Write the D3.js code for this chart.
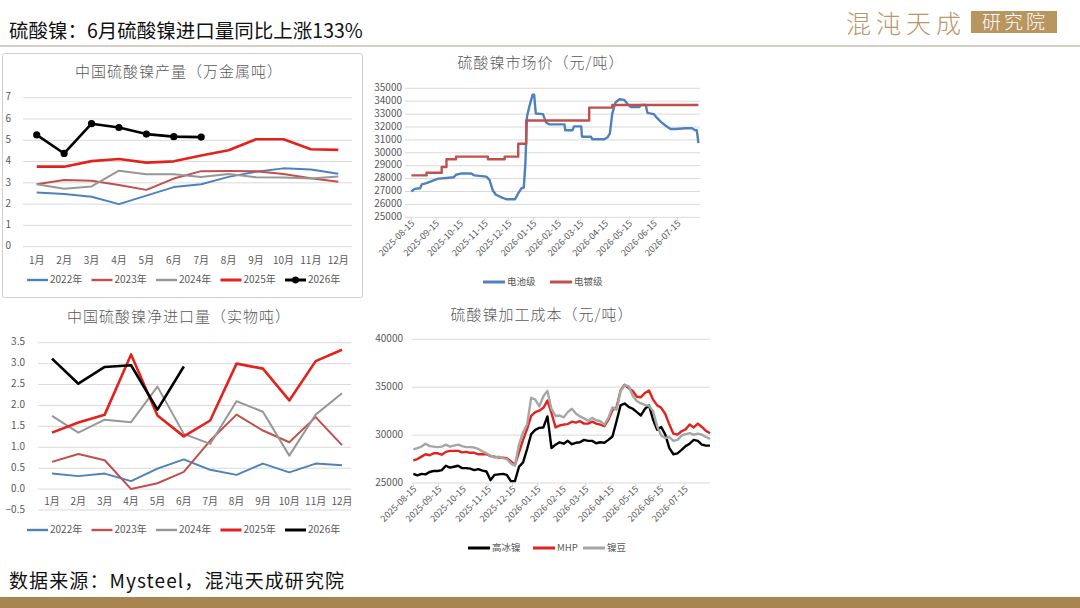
<!DOCTYPE html>
<html>
<head>
<meta charset="utf-8">
<script src="https://cdn.jsdelivr.net/npm/d3@7"></script>
<style>
  body { margin: 0; background: #fff; }
  svg { display: block; font-family: "Noto Sans CJK SC", "Noto Sans", sans-serif; }
</style>
</head>
<body>
<svg id="chart" width="1080" height="608"></svg>
<script>
// ---- data ----
const months = ["1月", "2月", "3月", "4月", "5月", "6月", "7月", "8月", "9月", "10月", "11月", "12月"];
const yearNames = ["2022年", "2023年", "2024年", "2025年", "2026年"];

// 中国硫酸镍产量（万金属吨）
const prod2022 = [2.55, 2.48, 2.35, 2.0, 2.4, 2.8, 2.93, 3.28, 3.52, 3.68, 3.63, 3.43];
const prod2023 = [2.93, 3.13, 3.1, 2.9, 2.67, 3.2, 3.55, 3.56, 3.55, 3.42, 3.22, 3.05];
const prod2024 = [2.93, 2.72, 2.83, 3.57, 3.4, 3.4, 3.28, 3.42, 3.26, 3.25, 3.2, 3.3];
const prod2025 = [3.76, 3.76, 4.02, 4.12, 3.95, 4.01, 4.28, 4.53, 5.05, 5.05, 4.58, 4.55];
const prod2026 = [5.25, 4.38, 5.78, 5.6, 5.29, 5.17, 5.15];

// 中国硫酸镍净进口量（实物吨）
const imp2022 = [0.37, 0.31, 0.37, 0.19, 0.49, 0.71, 0.46, 0.34, 0.61, 0.40, 0.61, 0.57];
const imp2023 = [0.65, 0.84, 0.69, 0.0, 0.14, 0.41, 1.16, 1.78, 1.40, 1.12, 1.72, 1.05];
const imp2024 = [1.75, 1.35, 1.66, 1.60, 2.45, 1.32, 1.08, 2.10, 1.85, 0.80, 1.78, 2.29];
const imp2025 = [1.35, 1.59, 1.78, 3.22, 1.76, 1.26, 1.64, 3.0, 2.88, 2.12, 3.06, 3.33];
const imp2026 = [3.12, 2.52, 2.92, 2.96, 1.90, 2.93];

// 硫酸镍市场价（元/吨）
const batteryPrice = [
  ["2025-08-15", 27000], ["2025-08-19", 27200], ["2025-08-26", 27250], ["2025-08-28", 27550],
  ["2025-09-03", 27650], ["2025-09-11", 27850], ["2025-09-18", 28000], ["2025-09-28", 28050],
  ["2025-10-07", 28100], ["2025-10-10", 28300], ["2025-10-17", 28400], ["2025-10-29", 28400],
  ["2025-11-02", 28250], ["2025-11-17", 28150], ["2025-11-21", 27900], ["2025-11-25", 27100],
  ["2025-11-29", 26750], ["2025-12-06", 26550], ["2025-12-12", 26400], ["2025-12-23", 26400],
  ["2025-12-27", 26850], ["2025-12-31", 27250], ["2026-01-03", 27300], ["2026-01-05", 29200],
  ["2026-01-07", 32800], ["2026-01-10", 33600], ["2026-01-12", 34050], ["2026-01-14", 34500],
  ["2026-01-16", 34500], ["2026-01-18", 33050], ["2026-01-27", 33000], ["2026-01-31", 32350],
  ["2026-02-04", 32200], ["2026-02-23", 32200], ["2026-02-24", 31750], ["2026-03-05", 31750],
  ["2026-03-07", 32050], ["2026-03-16", 32050], ["2026-03-17", 31250], ["2026-03-28", 31250],
  ["2026-03-30", 31050], ["2026-04-14", 31050], ["2026-04-18", 31200], ["2026-04-21", 31500],
  ["2026-04-24", 33050], ["2026-04-28", 33900], ["2026-05-03", 34150], ["2026-05-09", 34100],
  ["2026-05-13", 33800], ["2026-05-17", 33550], ["2026-05-28", 33550], ["2026-05-30", 33700],
  ["2026-06-05", 33700], ["2026-06-07", 33100], ["2026-06-15", 33000], ["2026-06-19", 32700],
  ["2026-06-24", 32400], ["2026-06-30", 32100], ["2026-07-06", 31850], ["2026-07-12", 31850],
  ["2026-07-25", 31900], ["2026-08-02", 31900], ["2026-08-06", 31750], ["2026-08-08", 31750],
  ["2026-08-10", 30750]
];
const platingPrice = [
  ["2025-08-15", 28250], ["2025-09-03", 28450], ["2025-09-22", 28900], ["2025-09-28", 29500],
  ["2025-10-10", 29700], ["2025-11-19", 29500], ["2025-12-10", 29700], ["2025-12-27", 30700],
  ["2026-01-06", 32500], ["2026-03-26", 33500], ["2026-04-24", 33700], ["2026-08-10", 33700]
];

// 硫酸镍加工成本（元/吨），每5天一个读数，起点 2025-08-15
const costStart = "2025-08-15";
const costHighMatte = [
  25950, 25800, 25950, 25900, 26150, 26250, 26250, 26350, 26800, 26600,
  26700, 26800, 26550, 26550, 26500, 26350, 26450, 26300, 26200, 25300,
  25850, 25900, 25950, 25850, 25200, 25200, 26700, 27150, 28550, 30100,
  30550, 30750, 30800, 31950, 28650, 29000, 29250, 29100, 29400, 29050,
  29200, 29250, 29500, 29400, 29400, 29150, 29250, 29200, 29500, 29850,
  31450, 33100, 33300, 32950, 32750, 32400, 32050, 32750, 33100, 31600,
  30550, 30850, 30050, 28650, 28000, 28100, 28450, 28850, 29100, 29500,
  29400, 29000, 28900, 28900
];
const costMHP = [
  27350, 27500, 27750, 28000, 27900, 28100, 28100, 27950, 28250, 28350,
  28350, 28350, 28200, 28250, 28150, 28150, 28000, 28000, 28000, 27800,
  27750, 27650, 27650, 27600, 27250, 26900, 28200, 29500, 30650, 32000,
  32400, 32550, 32850, 33600, 32300, 30800, 31000, 31100, 31150, 31400,
  31300, 31450, 31200, 31200, 31400, 31200, 31100, 30950, 31600, 32600,
  32900, 34650, 35250, 34900, 34600, 34000, 33950, 34400, 34650, 33700,
  33100, 32850, 32200, 31100, 30150, 30050, 30400, 30600, 31100, 30800,
  31200, 30850, 30450, 30200
];
const costBeans = [
  28500, 28650, 28800, 29100, 28850, 28800, 28750, 28800, 29000, 28800,
  28900, 29000, 28850, 28750, 28750, 28700, 28550, 28300, 28100, 27850,
  27650, 27750, 27600, 27500, 27050, 26800, 29000, 30300, 31100, 33900,
  33700, 33000, 34050, 34600, 32700, 32000, 32050, 31850, 32400, 32750,
  32250, 31950, 31750, 31500, 31800, 31550, 31450, 31100, 31800, 32900,
  32650, 34600, 35200, 35100, 34100, 33550, 33300, 33150, 33050, 32500,
  30900, 29950, 29700, 29800, 29400, 29500, 29950, 30100, 30200, 30050,
  30150, 30050, 29800, 29600
];

// ---- styles ----
const yearColors = ["#4f81bd", "#c0504d", "#979797", "#e3221e", "#000000"];
const yearWidths = [2, 2, 2, 2.6, 2.6];
const gridColor = "#d9d9d9";
const labelColor = "#595959";

const parseDate = d3.timeParse("%Y-%m-%d");
const fmtDate = d3.timeFormat("%Y-%m-%d");
const svg = d3.select("#chart");

// ---- page frame: header, logo, footer ----
svg.append("text")
  .attr("x", 9).attr("y", 38)
  .attr("font-size", 19.5).attr("fill", "#111")
  .text("硫酸镍：6月硫酸镍进口量同比上涨133%");

svg.append("line")
  .attr("x1", 0).attr("x2", 1080).attr("y1", 46).attr("y2", 46)
  .attr("stroke", "#c9c0b1").attr("stroke-width", 1.5);

svg.append("text")
  .attr("x", 846).attr("y", 33)
  .attr("font-size", 25).attr("font-weight", 300)
  .attr("letter-spacing", 5).attr("fill", "#b8966a")
  .text("混沌天成");
svg.append("rect")
  .attr("x", 971).attr("y", 11).attr("width", 86).attr("height", 22)
  .attr("fill", "#b9955f");
svg.append("text")
  .attr("x", 1015).attr("y", 29).attr("text-anchor", "middle")
  .attr("font-size", 19).attr("font-weight", 300)
  .attr("letter-spacing", 3).attr("fill", "#fff")
  .text("研究院");

svg.append("text")
  .attr("x", 9).attr("y", 588)
  .attr("font-size", 19).attr("letter-spacing", 1.1).attr("fill", "#111")
  .text("数据来源：Mysteel，混沌天成研究院");

svg.append("rect")
  .attr("x", 0).attr("y", 597).attr("width", 1080).attr("height", 11)
  .attr("fill", "#a8844f");

// box round the production chart
svg.append("rect")
  .attr("x", 2.5).attr("y", 53.5).attr("width", 360).attr("height", 244)
  .attr("rx", 2).attr("fill", "none").attr("stroke", "#cfcfcf");

// ---- helpers ----
const addTitle = (x, y, text) => svg.append("text")
  .attr("x", x).attr("y", y).attr("text-anchor", "middle")
  .attr("dominant-baseline", "middle")
  .attr("font-size", 15).attr("font-weight", 300)
  .attr("letter-spacing", 1).attr("fill", labelColor)
  .text(text);

const addGrid = function(g, y, ticks, x0, x1) {
  g.selectAll("line.grid").data(ticks).join("line")
    .attr("class", "grid")
    .attr("x1", x0).attr("x2", x1)
    .attr("y1", d => y(d)).attr("y2", d => y(d))
    .attr("stroke", gridColor).attr("stroke-width", 1);
};

// monthly year-on-year chart (left column)
const drawMonthChart = function(cfg) {
  const g = svg.append("g");
  const x = d3.scalePoint().domain(months).range(cfg.xRange).padding(0.5);
  const y = d3.scaleLinear().domain(cfg.yDomain).range(cfg.yRange);

  addTitle(cfg.titleX, cfg.titleY, cfg.title);
  addGrid(g, y, cfg.yTicks, cfg.gridX[0], cfg.gridX[1]);

  g.selectAll("text.ylab").data(cfg.yTicks).join("text")
    .attr("class", "ylab")
    .attr("x", cfg.yLabelX).attr("y", d => y(d))
    .attr("text-anchor", "end").attr("dominant-baseline", "middle")
    .attr("font-size", 10).attr("fill", labelColor)
    .text(cfg.yFormat);

  g.selectAll("text.xlab").data(months).join("text")
    .attr("class", "xlab")
    .attr("x", d => x(d)).attr("y", cfg.xLabelY)
    .attr("text-anchor", "middle").attr("dominant-baseline", "middle")
    .attr("font-size", 10).attr("fill", labelColor)
    .text(d => d);

  const line = d3.line().x((d, i) => x(months[i])).y(d => y(d));
  cfg.series.forEach((s, i) => {
    g.append("path").datum(s)
      .attr("d", line)
      .attr("fill", "none")
      .attr("stroke", yearColors[i])
      .attr("stroke-width", yearWidths[i])
      .attr("stroke-linejoin", "round");
  });
  if (cfg.dots) {
    const last = cfg.series.length - 1;
    g.selectAll("circle.dot").data(cfg.series[last]).join("circle")
      .attr("class", "dot")
      .attr("cx", (d, i) => x(months[i])).attr("cy", d => y(d))
      .attr("r", 3.6).attr("fill", yearColors[last]);
  }

  // legend
  const lg = g.append("g");
  yearNames.forEach((name, i) => {
    const lx = cfg.legendX + i * 64.5;
    lg.append("line")
      .attr("x1", lx).attr("x2", lx + 21)
      .attr("y1", cfg.legendY).attr("y2", cfg.legendY)
      .attr("stroke", yearColors[i]).attr("stroke-width", yearWidths[i] + 0.4);
    if (cfg.dots && i === yearNames.length - 1) {
      lg.append("circle").attr("cx", lx + 10.5).attr("cy", cfg.legendY)
        .attr("r", 3.4).attr("fill", yearColors[i]);
    }
    lg.append("text")
      .attr("x", lx + 23).attr("y", cfg.legendY)
      .attr("dominant-baseline", "middle")
      .attr("font-size", 10).attr("fill", labelColor)
      .text(name);
  });
};

// daily price / cost chart (right column)
const drawDateChart = function(cfg) {
  const g = svg.append("g");
  const x = d3.scaleTime().domain(cfg.xDomain.map(parseDate)).range(cfg.xRange);
  const y = d3.scaleLinear().domain(cfg.yDomain).range(cfg.yRange);

  addTitle(cfg.titleX, cfg.titleY, cfg.title);
  addGrid(g, y, cfg.yTicks, cfg.xRange[0], cfg.xRange[1]);

  g.selectAll("text.ylab").data(cfg.yTicks).join("text")
    .attr("class", "ylab")
    .attr("x", cfg.yLabelX).attr("y", d => y(d))
    .attr("text-anchor", "end").attr("dominant-baseline", "middle")
    .attr("font-size", 10).attr("fill", labelColor)
    .text(d => d);

  // month ticks on the 15th
  const ticks = d3.timeMonth.range(parseDate("2025-08-01"), parseDate("2026-08-01"))
    .map(m => d3.timeDay.offset(m, 14));
  const axisY = y(cfg.yDomain[0]);
  g.selectAll("line.tick").data(ticks).join("line")
    .attr("class", "tick")
    .attr("x1", d => x(d)).attr("x2", d => x(d))
    .attr("y1", axisY).attr("y2", axisY + 4)
    .attr("stroke", gridColor);
  g.selectAll("text.xlab").data(ticks).join("text")
    .attr("class", "xlab")
    .attr("transform", d => `translate(${x(d) + 2},${axisY + 5}) rotate(-45)`)
    .attr("text-anchor", "end").attr("dominant-baseline", "middle")
    .attr("font-size", 9).attr("fill", labelColor)
    .text(fmtDate);

  cfg.series.forEach(s => {
    const line = d3.line().x(d => x(d[0])).y(d => y(d[1])).curve(s.curve || d3.curveLinear);
    g.append("path").datum(s.values)
      .attr("d", line)
      .attr("fill", "none")
      .attr("stroke", s.color)
      .attr("stroke-width", s.width)
      .attr("stroke-linejoin", "round");
  });

  cfg.series.forEach((s, i) => {
    const lx = cfg.legendX[i];
    g.append("line")
      .attr("x1", lx).attr("x2", lx + 22)
      .attr("y1", cfg.legendY).attr("y2", cfg.legendY)
      .attr("stroke", s.color).attr("stroke-width", 3);
    g.append("text")
      .attr("x", lx + 24).attr("y", cfg.legendY)
      .attr("dominant-baseline", "middle")
      .attr("font-size", 9.5).attr("fill", labelColor)
      .text(s.name);
  });
};

// ---- the four charts ----
drawMonthChart({
  title: "中国硫酸镍产量（万金属吨）", titleX: 179, titleY: 73,
  xRange: [23, 352], gridX: [23, 352],
  yDomain: [0, 7], yRange: [246.7, 97.7], yTicks: d3.range(0, 8),
  yFormat: d => d, yLabelX: 11, xLabelY: 261,
  series: [prod2022, prod2023, prod2024, prod2025, prod2026], dots: true,
  legendX: 27, legendY: 280
});

drawMonthChart({
  title: "中国硫酸镍净进口量（实物吨）", titleX: 179, titleY: 318,
  xRange: [38.8, 355.2], gridX: [38, 351],
  yDomain: [-0.5, 3.5], yRange: [510, 342.7], yTicks: d3.range(-0.5, 3.51, 0.5),
  yFormat: d3.format(".1f"), yLabelX: 25, xLabelY: 502,
  series: [imp2022, imp2023, imp2024, imp2025, imp2026], dots: false,
  legendX: 27, legendY: 530
});

const toPairs = rows => rows.map(r => [parseDate(r[0]), r[1]]);

drawDateChart({
  title: "硫酸镍市场价（元/吨）", titleX: 541, titleY: 64,
  xDomain: ["2025-08-07", "2026-08-12"], xRange: [405, 700],
  yDomain: [25000, 35000], yRange: [217.3, 88.3], yTicks: d3.range(25000, 35001, 1000),
  yLabelX: 402,
  series: [
    { name: "电池级", color: "#4f81bd", width: 2.4, values: toPairs(batteryPrice) },
    { name: "电镀级", color: "#c0504d", width: 2.4, values: toPairs(platingPrice), curve: d3.curveStepAfter }
  ],
  legendX: [483, 550], legendY: 282
});

const costSeries = vals => vals.map((v, i) => [d3.timeDay.offset(parseDate(costStart), i * 5), v]);

drawDateChart({
  title: "硫酸镍加工成本（元/吨）", titleX: 542, titleY: 316,
  xDomain: ["2025-08-13", "2026-08-15"], xRange: [411.7, 710],
  yDomain: [25000, 40000], yRange: [483, 339.3], yTicks: [25000, 30000, 35000, 40000],
  yLabelX: 403,
  series: [
    { name: "高冰镍", color: "#000000", width: 2.4, values: costSeries(costHighMatte) },
    { name: "MHP", color: "#e3221e", width: 2.4, values: costSeries(costMHP) },
    { name: "镍豆", color: "#a6a6a6", width: 2.4, values: costSeries(costBeans) }
  ],
  legendX: [468, 533, 583], legendY: 548
});
</script>
</body>
</html>
